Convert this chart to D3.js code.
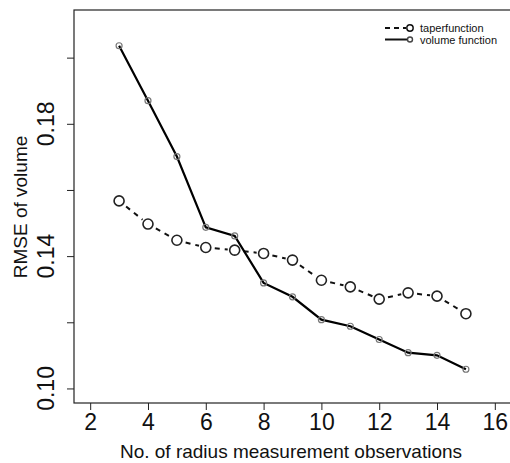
<!DOCTYPE html>
<html>
<head>
<meta charset="utf-8">
<script src="https://cdn.jsdelivr.net/npm/d3@7"></script>
<style>
  body { margin: 0; background: #fff; }
  svg { font-family: "Liberation Sans", Arial, sans-serif; }
</style>
</head>
<body>
<div id="chart"></div>
<script>
// observations
var obs = [3, 4, 5, 6, 7, 8, 9, 10, 11, 12, 13, 14, 15];
var taper = [0.1567, 0.1497, 0.1448, 0.1426, 0.1418, 0.1408, 0.1388, 0.1327, 0.1307, 0.1270, 0.1289, 0.1279, 0.1226];
var volume = [0.2036, 0.1870, 0.1701, 0.1487, 0.1461, 0.1319, 0.1277, 0.1208, 0.1188, 0.1148, 0.1108, 0.1100, 0.1058];
var xTicks = [2, 4, 6, 8, 10, 12, 14, 16];
var yTicks = [0.10, 0.12, 0.14, 0.16, 0.18, 0.20];
var yLabelTicks = [0.10, 0.14, 0.18];
var legendNames = ["taperfunction", "volume function"];

var W = 510, H = 463;
var svg = d3.select("#chart").append("svg").attr("width", W).attr("height", H);

var x = d3.scaleLinear().domain([1.44, 16.56]).range([74, 511]);
var y = d3.scaleLinear().domain([0.0956, 0.2144]).range([403, 10]);

// box
svg.append("rect")
    .attr("x", x.range()[0]).attr("y", y.range()[1])
    .attr("width", x.range()[1] - x.range()[0])
    .attr("height", y.range()[0] - y.range()[1])
    .attr("fill", "none").attr("stroke", "#222").attr("stroke-width", 1.2);

// x axis
var xa = svg.append("g").attr("transform", "translate(0," + y.range()[0] + ")")
    .call(d3.axisBottom(x).tickValues(xTicks).tickSize(7).tickPadding(4).tickFormat(d3.format("d")));
xa.select(".domain").remove();
xa.selectAll("line").attr("stroke", "#222");
xa.selectAll("text").attr("font-size", 23).attr("fill", "#111");

// y axis
var ya = svg.append("g").attr("transform", "translate(" + x.range()[0] + ",0)")
    .call(d3.axisLeft(y).tickValues(yTicks).tickSize(7).tickFormat(""));
ya.select(".domain").remove();
ya.selectAll("line").attr("stroke", "#222");

svg.selectAll(".ylab").data(yLabelTicks).enter().append("text")
    .attr("class", "ylab")
    .attr("transform", function(d){ return "translate(54," + y(d) + ") rotate(-90)"; })
    .attr("text-anchor", "middle")
    .attr("font-size", 23).attr("fill", "#111")
    .text(d3.format(".2f"));

// axis titles
svg.append("text").attr("x", 291).attr("y", 458)
    .attr("text-anchor", "middle").attr("font-size", 19).attr("fill", "#111")
    .text("No. of radius measurement observations");
svg.append("text")
    .attr("transform", "translate(27," + 207 + ") rotate(-90)")
    .attr("text-anchor", "middle").attr("font-size", 19).attr("fill", "#111")
    .text("RMSE of volume");

// taper: dashed, type "b" with gaps around the points
var tData = obs.map(function(d, i){ return {x: x(d), y: y(taper[i])}; });
for (var i = 0; i < tData.length - 1; i++) {
    var a = tData[i], b = tData[i + 1];
    var dx = b.x - a.x, dy = b.y - a.y, len = Math.sqrt(dx * dx + dy * dy);
    var g = 7;
    svg.append("line")
        .attr("x1", a.x + dx / len * g).attr("y1", a.y + dy / len * g)
        .attr("x2", b.x - dx / len * g).attr("y2", b.y - dy / len * g)
        .attr("stroke", "#111").attr("stroke-width", 2)
        .attr("stroke-dasharray", "5,5").attr("stroke-dashoffset", -2);
}
svg.selectAll(".tp").data(tData).enter().append("circle")
    .attr("class", "tp")
    .attr("cx", function(d){ return d.x; }).attr("cy", function(d){ return d.y; })
    .attr("r", 5).attr("fill", "none").attr("stroke", "#222").attr("stroke-width", 1.6);

// volume: solid line
var line = d3.line().x(function(d){ return x(d[0]); }).y(function(d){ return y(d[1]); });
svg.append("path").datum(obs.map(function(d, i){ return [d, volume[i]]; }))
    .attr("d", line).attr("fill", "none").attr("stroke", "#000").attr("stroke-width", 2.2);
svg.selectAll(".vp").data(obs).enter().append("circle")
    .attr("class", "vp")
    .attr("cx", function(d){ return x(d); }).attr("cy", function(d, i){ return y(volume[i]); })
    .attr("r", 3).attr("fill", "none").attr("stroke", "#777").attr("stroke-width", 1.2);

// legend
var lg = svg.append("g");
lg.append("line").attr("x1", 385).attr("x2", 406).attr("y1", 28).attr("y2", 28)
    .attr("stroke", "#111").attr("stroke-width", 2).attr("stroke-dasharray", "5,4");
lg.append("circle").attr("cx", 410).attr("cy", 28).attr("r", 3.2)
    .attr("fill", "#fff").attr("stroke", "#111").attr("stroke-width", 1.4);
lg.append("line").attr("x1", 385).attr("x2", 410).attr("y1", 39.5).attr("y2", 39.5)
    .attr("stroke", "#111").attr("stroke-width", 2);
lg.append("circle").attr("cx", 410).attr("cy", 39.5).attr("r", 2.5)
    .attr("fill", "#fff").attr("stroke", "#444").attr("stroke-width", 1.4);
lg.selectAll("text").data(legendNames).enter().append("text")
    .attr("x", 420).attr("y", function(d, i){ return 32 + i * 11.5; })
    .attr("font-size", 11).attr("fill", "#111")
    .text(function(d){ return d; });
</script>
</body>
</html>
